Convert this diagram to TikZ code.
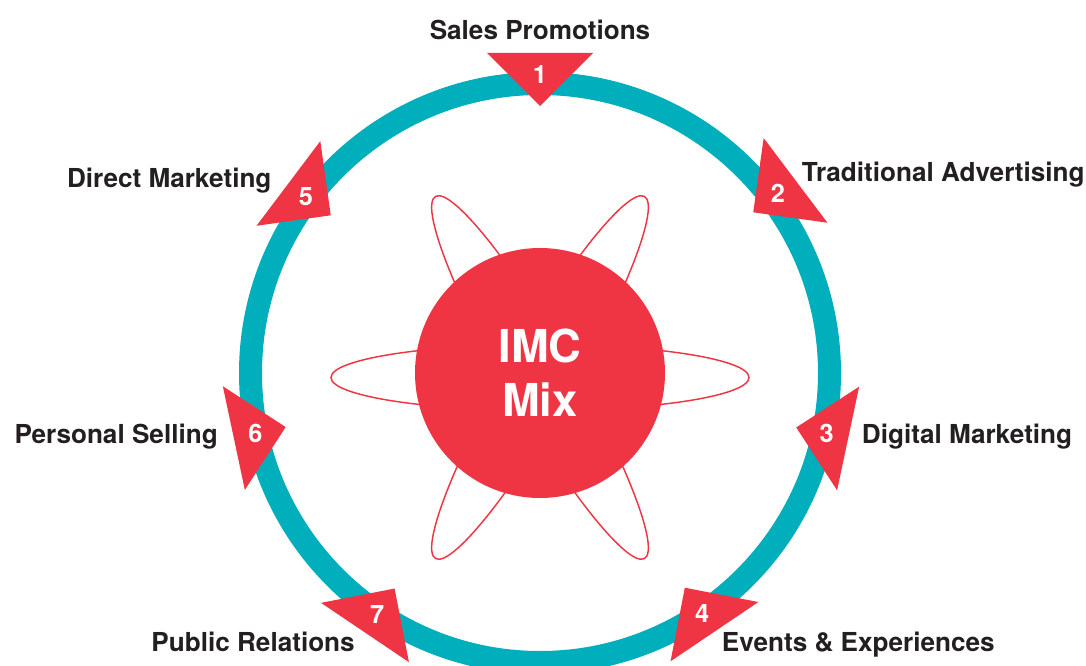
\documentclass[tikz,border=0pt]{standalone}
\usepackage{fontspec}
\setmainfont{TeX Gyre Heros}
\definecolor{imcred}{RGB}{239,53,67}
\definecolor{ringteal}{RGB}{0,174,188}
\definecolor{lbltext}{RGB}{35,31,32}

\begin{document}
\begin{tikzpicture}[x=0.75pt,y=0.75pt,yscale=-1,xscale=1,
  petal/.style={draw=imcred, line width=1.1pt},
  marker/.style={fill=imcred},
  hub/.style={circle, fill=imcred, minimum size=187.5pt, inner sep=0pt, text=white, align=center, font=\fontsize{34}{40.5}\selectfont\bfseries},
  num/.style={text=white, inner sep=0pt, font=\fontsize{19}{22}\selectfont\bfseries},
  lbl/.style={text=lbltext, inner sep=0pt, font=\fontsize{19.6}{24}\selectfont\bfseries}]
\useasboundingbox (0,0) rectangle (1086,666);

%Shape: Circle (outer ring)
\draw [color=ringteal, line width=17.25pt] (540,373) circle [radius=289.5];

%Shape: Ellipses round the hub
\foreach \r in {0,60,120}
  \draw [petal, rotate around={\r:(540,377.5)}] (540,377.5) ellipse [x radius=209, y radius=33];

%Shape: Circle (hub)
\node (imc) [hub] at (540,373) {IMC\\Mix};

%Shape: Triangles with numbers
\foreach \n/\a/\r in {1/-90/320, 2/-37/320, 3/12/315, 4/56/312, 5/-143/315, 6/168/313, 7/124/313}{
  \begin{scope}[shift={(540,373)}, rotate=\a]
    \fill [marker] (\r,-53) -- (\r,53) -- ({\r-53},0) -- cycle;
    \node (n\n) [num] at ({\r-22},0) {\n};
  \end{scope}
}

% Text Node
\node (sales) [lbl, anchor=base] at (540,39.3) {Sales Promotions};
% Text Node
\node (trad) [lbl, anchor=base west] at (801.7,181.7) {Traditional Advertising};
% Text Node
\node (digital) [lbl, anchor=base west] at (861.7,444) {Digital Marketing};
% Text Node
\node (events) [lbl, anchor=base west] at (721.7,651.7) {Events \& Experiences};
% Text Node
\node (personal) [lbl, anchor=base east] at (218,443.3) {Personal Selling};
% Text Node
\node (direct) [lbl, anchor=base east] at (271.7,187.5) {Direct Marketing};
% Text Node
\node (public) [lbl, anchor=base east] at (355,651.7) {Public Relations};

\end{tikzpicture}
\end{document}
